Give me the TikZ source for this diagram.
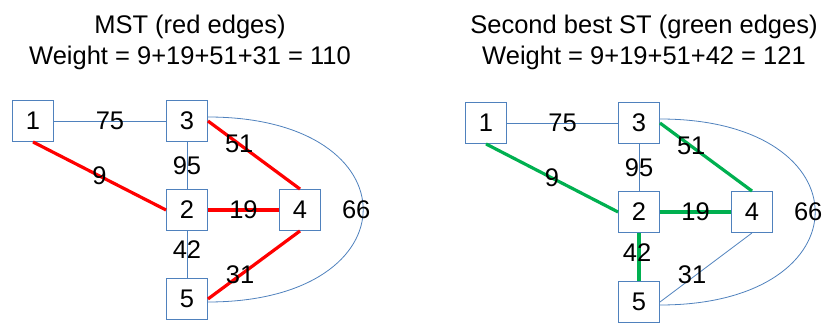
\documentclass[tikz,border=0pt]{standalone}
\usepackage{fontspec}
\setmainfont{Liberation Sans}
\usepackage{tikz}
\usetikzlibrary{positioning,calc}
\definecolor{boxblue}{RGB}{79,129,189}
\definecolor{mstred}{RGB}{255,0,0}
\definecolor{stgreen}{RGB}{0,176,80}

\begin{document}
\begin{tikzpicture}[x=1pt,y=-1pt,
  v/.style={rectangle,draw=boxblue,line width=0.9pt,minimum size=41pt,inner sep=0pt,font=\fontsize{25.5}{30}\selectfont},
  e/.style={draw=boxblue,line width=0.8pt},
  mst/.style={draw=mstred,line width=3.2pt},
  snd/.style={draw=stgreen,line width=3.2pt},
  w/.style={font=\fontsize{25.5}{30}\selectfont,inner sep=0pt},
  ttl/.style={font=\fontsize{25.5}{31}\selectfont,align=center}]
\useasboundingbox (0,0) rectangle (825,323);
% left: minimum spanning tree
\node[ttl] (t1) at (190,42) {MST (red edges)\\Weight = 9+19+51+31 = 110};
\node[v] (a1) at (33,121) {1};
\node[v] (a3) at (187,121) {3};
\node[v] (a2) at (187,210) {2};
\node[v] (a4) at (300,210) {4};
\node[v] (a5) at (187,299) {5};
\draw[e] (a1)--(a3) node[w,midway]{75};
\draw[e] (a3)--(a2) node[w,midway]{95};
\draw[e] (a2)--(a5) node[w,pos=.4]{42};
\draw[e] ([yshift=4pt]a3.east) .. controls +(207,0) and +(207,0) .. ([yshift=-3pt]a5.east) node[w,pos=.5,xshift=-7pt]{66};
\draw[mst] (a1.south)--(a2.west) node[w,midway]{9};
\draw[mst] (a3.east)--(a4.north) node[w,pos=.34]{51};
\draw[mst] (a2)--(a4) node[w,midway]{19};
\draw[mst] (a4.south)--(a5.east) node[w,pos=.65]{31};
% right: second best spanning tree
\node[ttl] (t2) at (644,42) {Second best ST (green edges)\\Weight = 9+19+51+42 = 121};
\node[v] (b1) at (486,123) {1};
\node[v] (b3) at (639,123) {3};
\node[v] (b2) at (639,212) {2};
\node[v] (b4) at (752,212) {4};
\node[v] (b5) at (639,302) {5};
\draw[e] (b1)--(b3) node[w,midway]{75};
\draw[e] (b3)--(b2) node[w,midway]{95};
\draw[e] (b4.south)--(b5.east) node[w,pos=.65,yshift=3pt]{31};
\draw[e] ([yshift=4pt]b3.east) .. controls +(207,0) and +(207,0) .. ([yshift=-3pt]b5.east) node[w,pos=.5,xshift=-7pt]{66};
\draw[snd] (b1.south)--(b2.west) node[w,midway]{9};
\draw[snd] (b3.east)--(b4.north) node[w,pos=.34]{51};
\draw[snd] (b2)--(b4) node[w,midway]{19};
\draw[snd] (b2)--(b5) node[w,pos=.4,xshift=-2pt]{42};
\end{tikzpicture}
\end{document}
